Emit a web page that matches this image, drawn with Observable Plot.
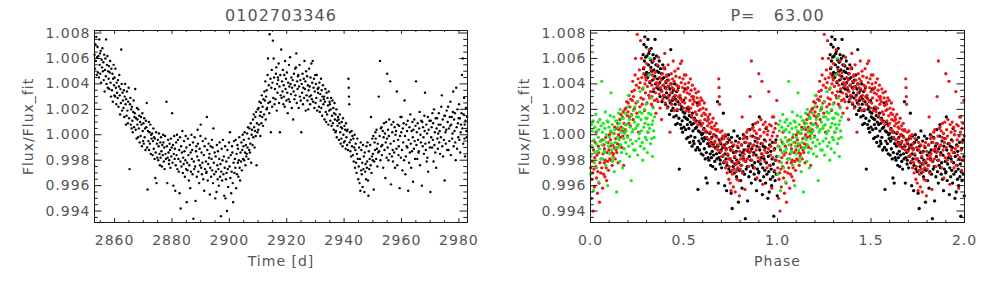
<!DOCTYPE html>
<html><head><meta charset="utf-8">
<script src="https://cdn.jsdelivr.net/npm/d3@7"></script>
<script src="https://cdn.jsdelivr.net/npm/@observablehq/plot@0.6"></script>
<style>
html,body{margin:0;padding:0;background:#fff;}
#wrap{display:flex;width:992px;height:283px;overflow:hidden;}
svg text{letter-spacing:1px;white-space:pre;}
g[aria-label="title"] text{letter-spacing:2px;}
</style></head><body><div id="wrap"></div>
<script>
// ---- data ----
const starId = "0102703346";
const periodLabel = "P=   63.00";
const period = 63.00;
const epoch = 2835.3;            // phase zero (days)
const xLabelTime = "Time [d]";
const xLabelPhase = "Phase";
const yLabel = "Flux/Flux_fit";
const timeTicks = [2860, 2880, 2900, 2920, 2940, 2960, 2980];
const timeMinorTicks = [2855, 2865, 2870, 2875, 2885, 2890, 2895, 2905, 2910, 2915, 2925, 2930, 2935, 2945, 2950, 2955, 2965, 2970, 2975];
const phaseTicks = [0, 0.5, 1, 1.5, 2];
const phaseMinorTicks = [0.1, 0.2, 0.3, 0.4, 0.6, 0.7, 0.8, 0.9, 1.1, 1.2, 1.3, 1.4, 1.6, 1.7, 1.8, 1.9];
const fluxTicks = [0.994, 0.996, 0.998, 1.000, 1.002, 1.004, 1.006, 1.008];
const fluxMinorTicks = [0.9935, 0.9945, 0.995, 0.9955, 0.9965, 0.997, 0.9975, 0.9985, 0.999, 0.9995, 1.0005, 1.001, 1.0015, 1.0025, 1.003, 1.0035, 1.0045, 1.005, 1.0055, 1.0065, 1.007, 1.0075];
const cycleColors = ["#000000", "#e81818", "#22e622"];   // cycle 0, 1, 2
// light curve: [time (d), (flux - 1) x 1e4]
const lightCurve = [
[2853.04,63],[2853.18,52],[2853.33,71],[2853.47,58],[2853.61,77],[2853.76,47],[2853.90,61],
[2854.07,69],[2854.21,49],[2854.35,62],[2854.52,45],[2854.66,75],[2854.79,55],[2854.95,64],
[2855.02,48],[2855.17,66],[2855.31,41],[2855.49,59],[2855.63,53],[2855.76,68],[2855.94,50],
[2856.09,57],[2856.22,43],[2856.38,63],[2856.53,34],[2856.67,51],[2856.81,60],[2856.96,46],
[2857.05,75],[2857.19,40],[2857.34,55],[2857.50,62],[2857.64,37],[2857.77,50],[2857.92,44],
[2858.03,54],[2858.16,36],[2858.32,49],[2858.46,58],[2858.60,41],[2858.75,30],[2858.89,52],
[2859.08,35],[2859.23,48],[2859.37,26],[2859.51,44],[2859.66,55],[2859.80,39],[2859.97,31],
[2860.01,45],[2860.15,30],[2860.30,52],[2860.45,37],[2860.59,24],[2860.73,41],[2860.88,33],
[2861.06,29],[2861.20,43],[2861.36,22],[2861.50,38],[2861.65,47],[2861.79,31],[2861.93,16],
[2862.04,36],[2862.18,25],[2862.33,67],[2862.48,40],[2862.62,19],[2862.77,33],[2862.91,27],
[2863.09,21],[2863.24,35],[2863.38,14],[2863.52,30],[2863.68,40],[2863.82,24],[2863.97,8],
[2864.02,28],[2864.17,15],[2864.31,34],[2864.46,19],[2864.61,9],[2864.74,26],[2864.90,37],
[2865.07,13],[2865.21,-27],[2865.35,24],[2865.51,29],[2865.64,8],[2865.79,20],[2865.94,5],
[2866.03,22],[2866.19,11],[2866.34,2],[2866.49,18],[2866.63,27],[2866.77,6],[2866.92,14],
[2867.05,17],[2867.20,36],[2867.36,4],[2867.50,13],[2867.66,-3],[2867.80,21],[2867.95,8],
[2868.01,12],[2868.16,-2],[2868.30,20],[2868.45,5],[2868.60,15],[2868.74,-6],[2868.89,10],
[2869.08,-1],[2869.22,14],[2869.37,8],[2869.53,-9],[2869.67,17],[2869.81,3],[2869.96,-5],
[2870.04,9],[2870.18,-7],[2870.32,13],[2870.47,-2],[2870.62,5],[2870.76,-12],[2870.91,11],
[2871.06,6],[2871.21,25],[2871.35,-10],[2871.51,-43],[2871.65,3],[2871.79,-5],[2871.94,10],
[2872.02,-12],[2872.17,2],[2872.31,-7],[2872.46,8],[2872.61,-15],[2872.75,0],[2872.90,-3],
[2873.09,1],[2873.23,-16],[2873.38,-5],[2873.52,5],[2873.66,-11],[2873.81,-2],[2873.95,-19],
[2874.03,-3],[2874.18,-34],[2874.33,-14],[2874.48,2],[2874.62,-38],[2874.77,-7],[2874.91,-18],
[2875.07,-4],[2875.21,-20],[2875.36,-9],[2875.50,1],[2875.65,-15],[2875.79,-24],[2875.94,-6],
[2876.05,-18],[2876.19,-2],[2876.34,-13],[2876.49,-25],[2876.63,-8],[2876.78,-16],[2876.92,0],
[2877.01,-6],[2877.16,-21],[2877.30,-10],[2877.45,-27],[2877.59,-1],[2877.74,-15],[2877.88,-19],
[2878.08,26],[2878.22,-9],[2878.37,-38],[2878.51,-18],[2878.66,-4],[2878.80,-14],[2878.95,-23],
[2879.03,-20],[2879.18,-7],[2879.32,-12],[2879.47,-26],[2879.61,-3],[2879.76,-17],[2879.90,-10],
[2880.06,17],[2880.20,-22],[2880.35,-8],[2880.50,-40],[2880.64,-15],[2880.78,-1],[2880.93,-19],
[2881.02,-11],[2881.16,-44],[2881.31,-24],[2881.46,-6],[2881.60,-16],[2881.75,0],[2881.89,-27],
[2882.09,-4],[2882.23,-19],[2882.38,-29],[2882.53,-12],[2882.67,-46],[2882.81,-2],[2882.96,-21],
[2883.04,-58],[2883.19,-9],[2883.33,-25],[2883.48,-14],[2883.62,3],[2883.77,-30],[2883.91,-18],
[2884.07,-23],[2884.21,-5],[2884.36,-13],[2884.50,-33],[2884.65,-20],[2884.80,-1],[2884.94,-27],
[2885.01,-10],[2885.15,-53],[2885.30,-22],[2885.44,-28],[2885.59,-3],[2885.73,-16],[2885.88,-36],
[2886.06,-24],[2886.20,-8],[2886.35,-42],[2886.49,-14],[2886.63,-29],[2886.78,0],[2886.92,-19],
[2887.03,-12],[2887.18,-31],[2887.32,-6],[2887.47,-66],[2887.61,-21],[2887.75,-27],[2887.90,-2],
[2888.08,-25],[2888.22,-52],[2888.37,-13],[2888.52,-9],[2888.66,-33],[2888.80,-17],[2888.95,4],
[2889.05,-7],[2889.19,-29],[2889.34,-20],[2889.48,-38],[2889.63,-11],[2889.77,-24],[2889.92,-1],
[2890.02,8],[2890.17,-26],[2890.31,-14],[2890.45,-31],[2890.60,-22],[2890.74,-5],[2890.89,-35],
[2891.09,-16],[2891.24,-44],[2891.38,-9],[2891.53,-27],[2891.67,-3],[2891.82,-21],[2891.96,-30],
[2892.04,-29],[2892.18,14],[2892.33,-12],[2892.47,-36],[2892.62,-23],[2892.76,-7],[2892.91,-18],
[2893.06,-15],[2893.21,-47],[2893.35,-26],[2893.50,-9],[2893.64,-33],[2893.79,-19],[2893.93,-4],
[2894.01,-28],[2894.16,-10],[2894.30,-38],[2894.44,5],[2894.59,-22],[2894.73,-31],[2894.88,-14],
[2895.07,-50],[2895.22,-17],[2895.36,-29],[2895.51,-45],[2895.65,-8],[2895.80,-24],[2895.94,-35],
[2896.03,-13],[2896.17,-27],[2896.32,-40],[2896.46,-19],[2896.61,-6],[2896.75,-33],[2896.90,-23],
[2897.05,-64],[2897.20,-29],[2897.34,-11],[2897.49,-36],[2897.63,-20],[2897.78,-4],[2897.92,-31],
[2898.08,-17],[2898.23,-48],[2898.37,-26],[2898.52,-9],[2898.66,-50],[2898.81,-35],[2898.95,-21],
[2899.02,-30],[2899.16,-60],[2899.31,-12],[2899.45,-27],[2899.60,-41],[2899.74,-18],[2899.89,-6],
[2900.06,-25],[2900.21,2],[2900.35,-34],[2900.50,-16],[2900.64,-46],[2900.79,-29],[2900.93,-9],
[2901.04,-14],[2901.18,-38],[2901.33,-53],[2901.47,-22],[2901.62,-5],[2901.76,-30],[2901.91,-19],
[2902.09,-26],[2902.23,-4],[2902.38,-42],[2902.52,-15],[2902.67,-31],[2902.81,-8],[2902.96,-22],
[2903.01,-11],[2903.15,-33],[2903.30,-20],[2903.45,-2],[2903.59,-26],[2903.74,-36],[2903.88,-14],
[2904.07,-21],[2904.21,-6],[2904.36,-28],[2904.50,-12],[2904.65,0],[2904.79,-19],[2904.94,-9],
[2905.03,-4],[2905.18,-20],[2905.32,2],[2905.47,-14],[2905.61,-24],[2905.76,-8],[2905.90,-17],
[2906.05,-15],[2906.20,1],[2906.34,-10],[2906.49,6],[2906.63,-19],[2906.78,-3],[2906.92,-12],
[2907.02,5],[2907.16,-14],[2907.31,-7],[2907.46,9],[2907.60,-22],[2907.75,0],[2907.89,4],
[2908.08,-8],[2908.22,12],[2908.37,-2],[2908.51,16],[2908.66,6],[2908.80,-10],[2908.95,3],
[2909.04,14],[2909.19,-1],[2909.33,18],[2909.48,-24],[2909.62,9],[2909.77,2],[2909.91,20],
[2910.06,4],[2910.21,21],[2910.35,8],[2910.50,26],[2910.64,15],[2910.79,-1],[2910.93,18],
[2911.01,25],[2911.16,9],[2911.30,31],[2911.45,14],[2911.59,22],[2911.74,7],[2911.88,28],
[2912.09,16],[2912.23,34],[2912.38,27],[2912.53,42],[2912.67,12],[2912.81,30],[2912.96,20],
[2913.03,35],[2913.17,21],[2913.32,47],[2913.46,60],[2913.61,25],[2913.75,39],[2913.90,17],
[2914.05,79],[2914.20,26],[2914.34,44],[2914.49,2],[2914.63,37],[2914.78,51],[2914.92,22],
[2915.02,41],[2915.16,74],[2915.31,29],[2915.45,60],[2915.60,45],[2915.74,24],[2915.89,36],
[2916.07,28],[2916.22,48],[2916.36,53],[2916.51,19],[2916.65,40],[2916.80,33],[2916.94,45],
[2917.04,43],[2917.18,56],[2917.33,25],[2917.47,38],[2917.62,2],[2917.76,47],[2917.91,31],
[2918.08,67],[2918.23,29],[2918.37,42],[2918.52,34],[2918.66,51],[2918.81,24],[2918.95,39],
[2919.01,30],[2919.15,47],[2919.30,22],[2919.44,58],[2919.59,36],[2919.73,44],[2919.88,27],
[2920.06,49],[2920.20,33],[2920.35,17],[2920.49,41],[2920.64,28],[2920.78,55],[2920.93,38],
[2921.03,26],[2921.17,61],[2921.32,40],[2921.46,32],[2921.61,45],[2921.75,21],[2921.90,37],
[2922.09,43],[2922.24,12],[2922.38,34],[2922.53,48],[2922.67,28],[2922.82,39],[2922.96,52],
[2923.05,31],[2923.19,53],[2923.34,64],[2923.48,25],[2923.63,42],[2923.77,36],[2923.92,46],
[2924.02,47],[2924.16,21],[2924.31,38],[2924.45,55],[2924.60,30],[2924.74,43],[2924.89,27],
[2925.07,2],[2925.21,40],[2925.36,33],[2925.50,48],[2925.65,24],[2925.79,37],[2925.94,44],
[2926.04,29],[2926.18,58],[2926.33,36],[2926.47,42],[2926.62,19],[2926.76,50],[2926.91,31],
[2927.08,46],[2927.22,27],[2927.37,39],[2927.51,20],[2927.66,35],[2927.80,52],[2927.95,30],
[2928.01,38],[2928.16,24],[2928.30,45],[2928.45,31],[2928.59,56],[2928.74,28],[2928.88,41],
[2929.06,58],[2929.20,26],[2929.35,37],[2929.49,44],[2929.64,21],[2929.78,34],[2929.93,47],
[2930.03,25],[2930.17,40],[2930.32,29],[2930.46,47],[2930.61,19],[2930.75,36],[2930.90,33],
[2931.09,37],[2931.23,22],[2931.38,41],[2931.52,18],[2931.67,32],[2931.81,27],[2931.96,44],
[2932.05,21],[2932.19,35],[2932.34,15],[2932.48,30],[2932.63,39],[2932.77,24],[2932.92,28],
[2933.02,30],[2933.16,12],[2933.31,26],[2933.45,36],[2933.60,18],[2933.74,10],[2933.89,33],
[2934.07,16],[2934.21,29],[2934.36,23],[2934.50,8],[2934.65,34],[2934.79,19],[2934.94,26],
[2935.04,24],[2935.18,11],[2935.33,20],[2935.47,29],[2935.62,7],[2935.76,15],[2935.91,27],
[2936.08,9],[2936.22,21],[2936.37,4],[2936.51,17],[2936.66,25],[2936.80,12],[2936.95,2],
[2937.01,16],[2937.15,3],[2937.30,20],[2937.44,-2],[2937.59,11],[2937.73,7],[2937.88,14],
[2938.06,12],[2938.20,-4],[2938.35,9],[2938.49,16],[2938.64,2],[2938.78,-7],[2938.93,6],
[2939.03,-3],[2939.17,10],[2939.32,5],[2939.46,-9],[2939.61,13],[2939.75,0],[2939.90,-6],
[2940.09,7],[2940.24,-5],[2940.38,4],[2940.53,-11],[2940.67,9],[2940.82,-2],[2940.96,3],
[2941.05,-8],[2941.19,4],[2941.34,-12],[2941.50,44],[2941.60,37],[2941.70,30],[2941.80,24],[2941.92,-6],
[2942.02,2],[2942.16,-13],[2942.31,-4],[2942.45,-17],[2942.60,3],[2942.74,-9],[2942.89,-1],
[2943.07,-16],[2943.21,-3],[2943.36,-21],[2943.50,-10],[2943.65,0],[2943.79,-26],[2943.94,-12],
[2944.04,-7],[2944.18,-22],[2944.33,-30],[2944.47,-15],[2944.62,-3],[2944.76,-19],[2944.91,-35],
[2945.08,-25],[2945.22,-10],[2945.37,-38],[2945.51,-19],[2945.66,-44],[2945.80,-6],[2945.95,-28],
[2946.01,-12],[2946.15,-31],[2946.30,-22],[2946.44,-41],[2946.59,-8],[2946.73,-27],[2946.88,-17],
[2947.06,-45],[2947.20,-14],[2947.35,-29],[2947.49,-23],[2947.64,-35],[2947.78,-9],[2947.93,-26],
[2948.03,-21],[2948.17,-6],[2948.32,-36],[2948.46,-48],[2948.61,-13],[2948.75,-27],[2948.90,-19],
[2949.09,-8],[2949.23,-24],[2949.38,14],[2949.52,-30],[2949.67,-17],[2949.81,-3],[2949.96,-20],
[2950.05,-15],[2950.19,-1],[2950.34,-43],[2950.48,-21],[2950.63,-6],[2950.77,-12],[2950.92,2],
[2951.02,-3],[2951.16,-19],[2951.31,4],[2951.45,-11],[2951.60,-25],[2951.74,-7],[2951.89,-14],
[2952.07,30],[2952.21,-13],[2952.36,-1],[2952.50,58],[2952.65,-20],[2952.79,5],[2952.94,-9],
[2953.04,6],[2953.18,-16],[2953.33,-8],[2953.47,3],[2953.62,-26],[2953.76,-2],[2953.91,9],
[2954.08,-12],[2954.22,1],[2954.37,-34],[2954.51,-6],[2954.66,10],[2954.80,-18],[2954.95,-3],
[2955.01,48],[2955.15,-10],[2955.30,4],[2955.44,-20],[2955.59,-1],[2955.73,12],[2955.88,-15],
[2956.06,42],[2956.20,-7],[2956.35,-39],[2956.49,8],[2956.64,-17],[2956.78,2],[2956.93,-12],
[2957.03,-21],[2957.17,10],[2957.32,-5],[2957.46,-14],[2957.61,6],[2957.75,-26],[2957.90,0],
[2958.09,3],[2958.24,-11],[2958.38,34],[2958.53,-24],[2958.67,8],[2958.82,-4],[2958.96,-16],
[2959.05,-9],[2959.19,7],[2959.34,-42],[2959.48,-1],[2959.63,14],[2959.77,-18],[2959.92,2],
[2960.02,14],[2960.16,-12],[2960.31,-28],[2960.45,5],[2960.60,-6],[2960.74,9],[2960.89,-20],
[2961.07,27],[2961.21,-1],[2961.36,-31],[2961.50,-17],[2961.65,8],[2961.79,-9],[2961.94,3],
[2962.04,-10],[2962.18,11],[2962.33,-44],[2962.47,-4],[2962.62,-22],[2962.76,6],[2962.91,-14],
[2963.08,16],[2963.22,-7],[2963.37,-26],[2963.51,3],[2963.66,-13],[2963.80,10],[2963.95,-2],
[2964.01,-37],[2964.15,4],[2964.30,-11],[2964.44,12],[2964.59,-5],[2964.73,-19],[2964.88,7],
[2965.06,42],[2965.20,-8],[2965.35,2],[2965.49,-19],[2965.64,9],[2965.78,-4],[2965.93,-14],
[2966.03,-13],[2966.17,5],[2966.32,18],[2966.46,-24],[2966.61,0],[2966.75,-6],[2966.90,11],
[2967.09,-40],[2967.23,10],[2967.38,-9],[2967.52,6],[2967.67,-2],[2967.81,-15],[2967.96,15],
[2968.05,3],[2968.19,33],[2968.34,-7],[2968.48,-12],[2968.63,8],[2968.77,-21],[2968.92,1],
[2969.02,-18],[2969.16,14],[2969.31,-29],[2969.45,4],[2969.60,-6],[2969.74,11],[2969.89,-10],
[2970.07,-45],[2970.21,11],[2970.36,-2],[2970.50,6],[2970.65,-10],[2970.79,17],[2970.94,-4],
[2971.04,9],[2971.18,-21],[2971.33,20],[2971.47,-8],[2971.62,2],[2971.76,-14],[2971.91,13],
[2972.08,-26],[2972.22,5],[2972.37,13],[2972.51,-3],[2972.66,-11],[2972.80,1],[2972.95,8],
[2973.01,17],[2973.15,-6],[2973.30,3],[2973.44,-15],[2973.59,8],[2973.73,-2],[2973.88,22],
[2974.06,31],[2974.20,-9],[2974.35,12],[2974.49,-17],[2974.64,6],[2974.78,-4],[2974.93,15],
[2975.03,-36],[2975.17,15],[2975.32,2],[2975.46,-7],[2975.61,4],[2975.75,19],[2975.90,-12],
[2976.09,10],[2976.23,22],[2976.38,-12],[2976.52,5],[2976.67,-5],[2976.81,14],[2976.96,7],
[2977.05,26],[2977.19,-16],[2977.34,8],[2977.48,14],[2977.63,-3],[2977.77,1],[2977.92,18],
[2978.02,34],[2978.16,-9],[2978.31,12],[2978.45,3],[2978.60,17],[2978.74,-6],[2978.89,-20],
[2979.07,37],[2979.21,6],[2979.36,-11],[2979.50,20],[2979.65,9],[2979.79,-2],[2979.94,13],
[2980.04,24],[2980.18,-4],[2980.33,13],[2980.47,-14],[2980.62,2],[2980.76,8],[2980.91,17],
[2981.08,47],[2981.22,5],[2981.37,60],[2981.51,-7],[2981.66,16],[2981.80,29],[2981.95,-3],
[2982.01,8],[2982.15,-17],[2982.30,11],[2982.44,21],[2982.59,3],[2982.73,-2],[2982.88,14]
];

// ---- derived tables ----
const points = lightCurve.map(([t, v]) => {
  const c = (t - epoch) / period;
  const cycle = Math.floor(c);
  return {t, flux: 1 + v * 1e-4, phase: c - cycle, cycle};
});
const phased = points.flatMap(d => [
  {phase: d.phase, flux: d.flux, cycle: d.cycle},
  {phase: d.phase + 1, flux: d.flux, cycle: d.cycle}
]);

// ---- drawing ----
const W = 496, H = 283, MT = 30, MB = 61, ML = 94;
const INK = "#1a1a1a", TXT = "#555";
const yDomain = [0.9931, 1.0082];

function idlTicks(xMajor, xMinor, fw, fh) {
  const a = 0.02, b = 0.01;
  const o = {stroke: INK, strokeWidth: 1};
  return [
    Plot.ruleX(xMajor, {...o, x: d => d, insetTop: fh * (1 - a)}),
    Plot.ruleX(xMajor, {...o, x: d => d, insetBottom: fh * (1 - a)}),
    Plot.ruleX(xMinor, {...o, x: d => d, insetTop: fh * (1 - b)}),
    Plot.ruleX(xMinor, {...o, x: d => d, insetBottom: fh * (1 - b)}),
    Plot.ruleY(fluxTicks, {...o, y: d => d, insetRight: fw * (1 - a)}),
    Plot.ruleY(fluxTicks, {...o, y: d => d, insetLeft: fw * (1 - a)}),
    Plot.ruleY(fluxMinorTicks, {...o, y: d => d, insetRight: fw * (1 - b)}),
    Plot.ruleY(fluxMinorTicks, {...o, y: d => d, insetLeft: fw * (1 - b)})
  ];
}

function panel({mr, xDomain, xMajor, xMinor, xFormat, title, xLabel, dots}) {
  const fw = W - ML - mr, fh = H - MT - MB;
  return Plot.plot({
    width: W, height: H,
    marginLeft: ML, marginRight: mr, marginTop: MT, marginBottom: MB,
    x: {domain: xDomain},
    y: {domain: yDomain},
    color: {type: "identity"},
    style: {fontFamily: "'DejaVu Sans', sans-serif", fontSize: "14px", color: TXT, background: "#fff", overflow: "visible"},
    marks: [
      dots,
      Plot.frame({stroke: INK, strokeWidth: 1}),
      ...idlTicks(xMajor, xMinor, fw, fh),
      Plot.axisY(fluxTicks, {tickSize: 0, tickPadding: 4, tickFormat: d3.format(".3f"), label: null, fill: TXT}),
      Plot.axisX(xMajor, {tickSize: 0, tickPadding: 13, tickFormat: xFormat, label: null, fill: TXT}),
      Plot.text([title], {text: d => d, frameAnchor: "top", dy: -15, lineAnchor: "middle", textAnchor: "middle", fontSize: 16, fill: TXT, ariaLabel: "title"}),
      Plot.text([xLabel], {text: d => d, frameAnchor: "bottom", dy: 39, lineAnchor: "middle", textAnchor: "middle", fill: TXT}),
      Plot.text([yLabel], {text: d => d, frameAnchor: "left", dx: -66, rotate: -90, lineAnchor: "middle", textAnchor: "middle", fill: TXT})
    ]
  });
}

const left = panel({
  mr: 29, xDomain: [2853, 2983], xMajor: timeTicks, xMinor: timeMinorTicks,
  xFormat: d => String(d), title: starId, xLabel: xLabelTime,
  dots: Plot.dot(points, {x: "t", y: "flux", r: 1.2, fill: "#000", stroke: null})
});
const right = panel({
  mr: 28, xDomain: [0, 2], xMajor: phaseTicks, xMinor: phaseMinorTicks,
  xFormat: d3.format(".1f"), title: periodLabel, xLabel: xLabelPhase,
  dots: Plot.dot(phased, {x: "phase", y: "flux", r: 1.65, fill: d => cycleColors[d.cycle], stroke: null})
});
const wrap = document.getElementById("wrap");
wrap.append(left, right);
</script>
</body></html>
